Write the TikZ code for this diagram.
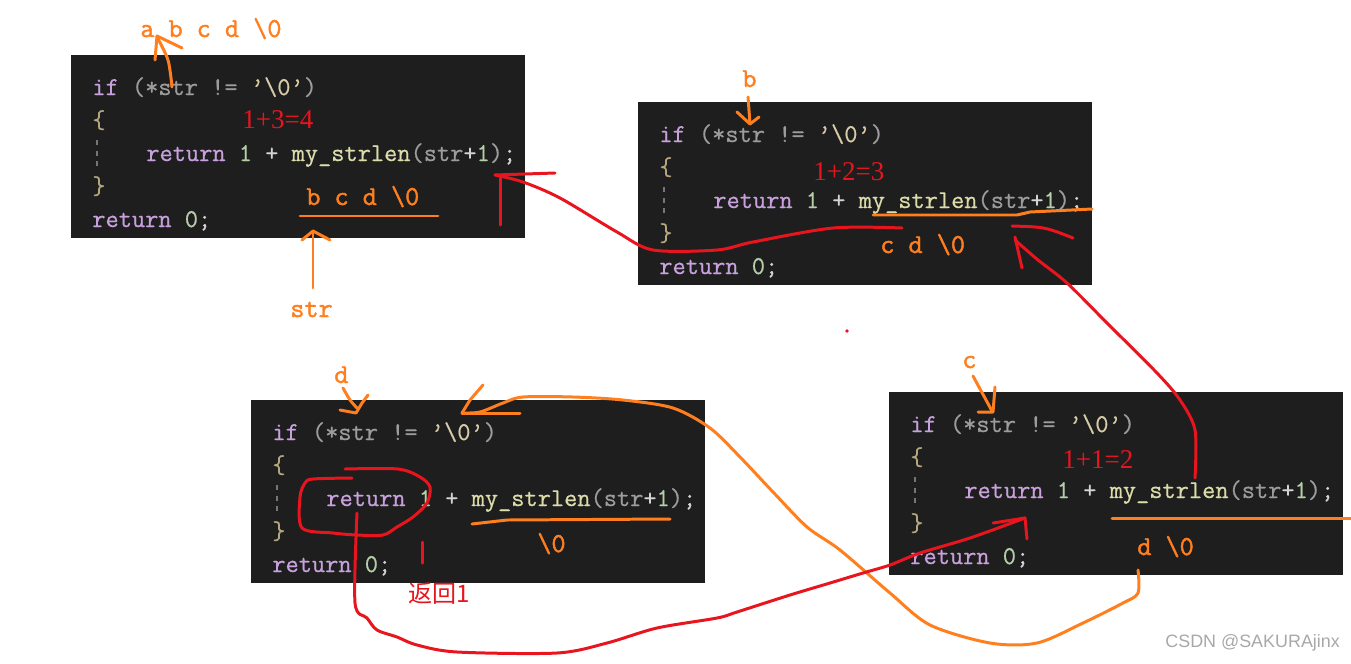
\documentclass[tikz,border=0pt]{standalone}
\usepackage{fontspec}
\usetikzlibrary{calc}
\setmainfont{Liberation Serif}
\newfontfamily\codefont[FakeBold=0.6]{Latin Modern Mono}
\newfontfamily\notefont[FakeBold=1.6]{Latin Modern Mono}
\newfontfamily\cjkfont{Noto Sans CJK SC}
\newfontfamily\markfont{Liberation Sans}
\definecolor{panel}{HTML}{1E1E1E}
\definecolor{kwcol}{HTML}{C8A0DC}
\definecolor{varcol}{HTML}{9C9C9C}
\definecolor{strcol}{HTML}{D8CCA8}
\definecolor{numcol}{HTML}{B5CEA8}
\definecolor{fncol}{HTML}{DCDCAA}
\definecolor{brcol}{HTML}{B4A67E}
\definecolor{opcol}{HTML}{D4D4D4}
\definecolor{pen}{HTML}{FF7F1F}
\definecolor{ink}{HTML}{E8151F}
\definecolor{markcol}{HTML}{A8A8A8}
\begin{document}
\begin{tikzpicture}[x=0.02cm,y=-0.02cm,
  panelbox/.style={fill=panel,draw=none,inner sep=0,anchor=north west,
    minimum width=9.08cm,minimum height=3.66cm},
  code/.style={anchor=base west,inner sep=0,
    font=\codefont\fontsize{14.6}{17}\selectfont},
  note/.style={anchor=base west,inner sep=0,text=pen,
    font=\notefont\fontsize{15.6}{18}\selectfont},
  sum/.style={anchor=base west,inner sep=0,text=ink,
    font=\fontsize{15.4}{18}\selectfont},
  guide/.style={draw=varcol!70!panel,dashed,line width=.6pt},
  opencil/.style={draw=pen,line width=1.7pt,line cap=round,line join=round},
  rpencil/.style={draw=ink,line width=1.7pt,line cap=round,line join=round}]
\useasboundingbox (0,0) rectangle (1351,663);
% the four call frames
\foreach \n/\px/\py in {1/71/55,2/638/102,3/251/400,4/889/392}{
 \node[panelbox] (box\n) at (\px,\py) {};
 \begin{scope}[shift={(\px,\py)}]
  \node[code] (cond\n) at (21,40)
   {\color{kwcol}if \color{varcol}(*str != \color{strcol}’\textbackslash0’\color{varcol})};
  \node[code] (open\n) at (21,73) {\color{brcol}\{};
  \node[code] (rec\n) at (75,106)
   {\color{kwcol}return \color{numcol}1 \color{opcol}+ \color{fncol}my\_strlen\color{varcol}(str\color{opcol}+\color{numcol}1\color{varcol})\color{opcol};};
  \node[code] (close\n) at (21,139) {\color{brcol}\}};
  \node[code] (zero\n) at (21,172)
   {\color{kwcol}return \color{numcol}0\color{opcol};};
  \draw[guide] (26,85)--(26,112);
 \end{scope}
}
% orange notes
\node[note] (seq1) at (140,37) {a b c d \textbackslash0};
\node[note] (rest1) at (306,205) {b c d \textbackslash0};
\node[note] (ptr) at (290,317) {str};
\node[note] (ch2) at (742,87) {b};
\node[note] (rest2) at (880,253) {c d \textbackslash0};
\node[note] (ch3) at (334,383) {d};
\node[note] (rest3) at (537,552) {\textbackslash0};
\node[note] (ch4) at (962,368) {c};
\node[note] (rest4) at (1137,555) {d \textbackslash0};
% red sums
\node[sum] (sum1) at (242,128) {1+3=4};
\node[sum] (sum2) at (813,180) {1+2=3};
\node[sum] (sum4) at (1062,468) {1+1=2};
\node[sum,font=\cjkfont\fontsize{13.7}{16}\selectfont] (ret) at (408,602) {返回1};
\node[anchor=base west,inner sep=0,text=markcol,
  font=\markfont\fontsize{10.2}{12}\selectfont] (mark) at (1165,647) {CSDN @SAKURAjinx};
% orange strokes
\draw[opencil] (300,216)--(438,216);
\draw[opencil] plot[smooth] coordinates {(172,87) (168,60) (157,37)};
\draw[opencil] (155,60)--(157,36)--(182,48);
\draw[opencil] (313,288)--(313,231);
\draw[opencil] (302,240)--(313,231)--(330,240);
\draw[opencil] (748,97)--(750,124);
\draw[opencil] (737,112)--(750,124)--(759,117);
\draw[opencil] (873,215)--(1017,215)--(1030,212)--(1092,209);
\draw[opencil] (973,376)--(992,411);
\draw[opencil] (978,412)--(993,412)--(995,387);
\draw[opencil] (1112,518)--(1351,518);
\draw[opencil] plot[smooth] coordinates {(343,388) (350,400) (357,408)};
\draw[opencil] (340,410)--(356,413)--(362,403)--(368,395);
\draw[opencil] (472,524)--(507,520)--(670,519);
\coordinate (dpass) at (1138,570);
\coordinate (dtip) at (462,413);
\draw[opencil] plot[smooth] coordinates {(dpass) (1138,593) (1123,603)
 (1083,623) (1037,643) (990,643) (930,625) (890,593) (840,550) (807,527)
 (773,492) (740,457) (710,428) (673,408) (623,400) (573,397) (523,397)
 (503,403) (480,412) (dtip)};
\draw[opencil] (dtip)--(470,400)--(483,385);
\draw[opencil] (dtip)--(520,413);
% red strokes
\coordinate (back2) at (902,228);
\coordinate (tip1) at (495,175);
\draw[rpencil] plot[smooth] coordinates {(back2) (833,228) (753,242)
 (717,250) (653,250) (617,232) (560,198) (523,182) (tip1)};
\draw[rpencil] (tip1)--(555,173);
\draw[rpencil] (500,177)--(500,225);
\coordinate (back4) at (1195,478);
\coordinate (tip2) at (1015,240);
\draw[rpencil] plot[smooth] coordinates {(back4) (1195,430) (1180,400)
 (1157,373) (1107,323) (1067,283) (1038,260) (tip2)};
\draw[rpencil] (1012,226) .. controls (1045,227) .. (1073,238);
\draw[rpencil] (1015,237)--(1022,268);
\draw[rpencil] plot[smooth] coordinates {(345,469) (398,469) (420,477)
 (430,487) (427,503) (413,517) (397,527) (383,535) (357,535) (333,533)
 (302,528) (300,497) (305,483) (313,479) (352,478)};
\draw[rpencil] (422,542)--(422,563);
\coordinate (back3) at (357,513);
\coordinate (tip4) at (1025,518);
\draw[rpencil] plot[smooth] coordinates {(back3) (355,603) (367,618)
 (377,630) (397,637) (417,645) (457,652) (557,653) (607,643) (657,628)
 (717,618) (737,612) (790,595) (830,583) (863,573) (890,565) (920,553)
 (970,538) (tip4)};
\draw[rpencil] (993,523)--(tip4)--(1027,539);
\fill[ink] (847,331) circle (1.1pt);
\end{tikzpicture}
\end{document}
